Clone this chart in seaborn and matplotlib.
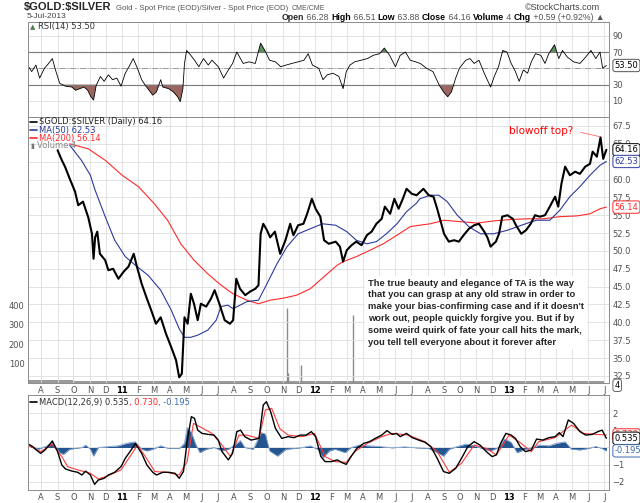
import pandas as pd
import matplotlib
matplotlib.use("Agg")
import matplotlib.pyplot as plt
import matplotlib.dates as mdates
from matplotlib.lines import Line2D
from matplotlib.text import Annotation
import seaborn as sns

# ---- price panel -------------------------------------------------------
price_dates = [
    "2010-09-01", "2010-09-09", "2010-09-15", "2010-09-24", "2010-10-04", "2010-10-10", "2010-10-19", "2010-10-29",
    "2010-11-05", "2010-11-08", "2010-11-11", "2010-11-15", "2010-11-20", "2010-11-30", "2010-12-06", "2010-12-15", "2010-12-25",
    "2011-01-04", "2011-01-13", "2011-01-23", "2011-01-29", "2011-02-07", "2011-02-16", "2011-02-25", "2011-03-06", "2011-03-15",
    "2011-03-25", "2011-04-04", "2011-04-13", "2011-04-19", "2011-04-24", "2011-04-29", "2011-05-05", "2011-05-11", "2011-05-17",
    "2011-05-24", "2011-05-30", "2011-06-09", "2011-06-18", "2011-06-25", "2011-07-04", "2011-07-14", "2011-07-24", "2011-07-30",
    "2011-08-05", "2011-08-12", "2011-08-22", "2011-08-31", "2011-09-10", "2011-09-16", "2011-09-20", "2011-09-25", "2011-10-02",
    "2011-10-08", "2011-10-17", "2011-10-27", "2011-11-06", "2011-11-15", "2011-11-21", "2011-11-30", "2011-12-10", "2011-12-17",
    "2011-12-26", "2012-01-02", "2012-01-11", "2012-01-18", "2012-01-27", "2012-02-09", "2012-02-17", "2012-02-23", "2012-03-01",
    "2012-03-10", "2012-03-19", "2012-03-29", "2012-04-08", "2012-04-17", "2012-04-26", "2012-05-06", "2012-05-12", "2012-05-22",
    "2012-05-30", "2012-06-07", "2012-06-15", "2012-06-22", "2012-07-02", "2012-07-11", "2012-07-24", "2012-08-03", "2012-08-12",
    "2012-08-19", "2012-08-25", "2012-09-01", "2012-09-10", "2012-09-20", "2012-09-29", "2012-10-08", "2012-10-18", "2012-10-28",
    "2012-11-06", "2012-11-16", "2012-11-22", "2012-11-28", "2012-12-08", "2012-12-14", "2012-12-20", "2012-12-30", "2013-01-09",
    "2013-01-15", "2013-01-25", "2013-02-03", "2013-02-12", "2013-02-20", "2013-03-01", "2013-03-11", "2013-03-20", "2013-03-30",
    "2013-04-05", "2013-04-11", "2013-04-18", "2013-04-27", "2013-05-07", "2013-05-16", "2013-05-26", "2013-06-04", "2013-06-09",
    "2013-06-17", "2013-06-24", "2013-06-29", "2013-07-05"]
price = [
    64.1, 62.7, 61.8, 60.1, 58.3, 56.4, 56.9, 54.7,
    52.4, 48.9, 51.9, 52.7, 49.6, 48.7, 47.3, 47.5, 46.1,
    47.1, 47.8, 49.6, 47.8, 45.4, 43.5, 41.7, 39.8, 40.7,
    38.4, 36.5, 34.7, 32.3, 32.8, 40.7, 39.8, 44.0, 42.6,
    40.3, 42.6, 42.2, 43.3, 44.5, 42.6, 40.3, 39.8, 40.3,
    46.1, 44.7, 43.8, 44.3, 44.7, 45.2, 52.4, 53.8, 52.9,
    51.9, 52.7, 49.6, 51.5, 53.8, 52.2, 53.6, 53.8, 55.2,
    57.3, 55.9, 54.8, 51.5, 51.0, 51.3, 50.6, 48.5, 50.1,
    50.8, 51.3, 50.8, 52.2, 52.7, 53.8, 54.5, 56.2, 55.2,
    57.3, 55.9, 57.3, 58.7, 58.0, 57.8, 58.7, 57.8, 57.6,
    55.9, 54.3, 52.4, 51.3, 51.5, 51.3, 52.2, 53.1, 53.6,
    53.8, 52.7, 51.9, 50.6, 51.3, 52.4, 54.8, 55.0, 54.5,
    53.6, 52.4, 52.9, 53.8, 55.0, 54.8, 55.0, 56.2, 57.6,
    56.2, 59.4, 61.8, 60.6, 61.1, 60.8, 61.8, 62.2, 63.9,
    63.2, 65.9, 62.9, 64.16]

ma50_dates = [
    "2010-09-24", "2010-10-16", "2010-11-02", "2010-11-11", "2010-11-30", "2010-12-18", "2011-01-07", "2011-01-26", "2011-02-19", "2011-03-15",
    "2011-04-04", "2011-04-19", "2011-04-29", "2011-05-11", "2011-05-24", "2011-06-12", "2011-06-28", "2011-07-07", "2011-07-20", "2011-07-30",
    "2011-08-25", "2011-09-16", "2011-10-02", "2011-10-21", "2011-11-09", "2011-11-30", "2011-12-23", "2012-01-15", "2012-02-09", "2012-03-01",
    "2012-03-19", "2012-04-08", "2012-04-26", "2012-05-15", "2012-06-04", "2012-06-22", "2012-07-11", "2012-07-17", "2012-08-06", "2012-08-22",
    "2012-09-07", "2012-09-26", "2012-10-18", "2012-11-09", "2012-12-04", "2012-12-30", "2013-01-18", "2013-02-06", "2013-02-23", "2013-03-20",
    "2013-04-08", "2013-04-27", "2013-05-16", "2013-06-04", "2013-06-23", "2013-07-05"]
ma50 = [
    64.8, 62.7, 60.6, 58.5, 54.8, 51.5, 49.2, 48.0, 46.6, 44.5,
    41.7, 39.1, 37.9, 37.9, 38.2, 38.9, 40.3, 42.2, 42.4, 41.9,
    42.9, 43.1, 45.4, 48.2, 50.6, 52.4, 53.1, 53.8, 53.6, 52.7,
    51.5, 51.0, 51.3, 52.4, 53.8, 55.5, 56.7, 57.3, 57.8, 57.8,
    56.9, 55.0, 53.4, 52.4, 52.4, 52.9, 53.4, 53.9, 54.3, 54.3,
    55.7, 57.6, 59.0, 60.6, 62.0, 62.53]

ma200_dates = [
    "2010-09-24", "2010-10-29", "2010-11-30", "2011-01-01", "2011-02-01", "2011-03-03", "2011-03-28", "2011-04-22", "2011-05-17", "2011-06-12",
    "2011-07-04", "2011-07-20", "2011-07-30", "2011-08-25", "2011-09-16", "2011-10-08", "2011-11-03", "2011-11-27", "2011-12-23", "2012-01-18",
    "2012-02-12", "2012-02-23", "2012-03-19", "2012-04-14", "2012-05-09", "2012-06-04", "2012-06-29", "2012-07-17", "2012-08-06", "2012-09-01",
    "2012-10-02", "2012-11-03", "2012-12-04", "2013-01-05", "2013-02-06", "2013-03-08", "2013-04-08", "2013-05-10", "2013-06-04", "2013-06-23",
    "2013-07-05"]
ma200 = [
    65.0, 64.3, 62.7, 60.6, 59.0, 56.6, 54.3, 51.0, 48.7, 46.8,
    45.4, 44.5, 44.0, 43.1, 42.6, 43.1, 43.4, 43.8, 44.7, 46.4,
    48.0, 48.5, 49.2, 50.1, 51.0, 52.2, 53.4, 53.6, 53.8, 54.3,
    54.1, 53.9, 54.2, 54.4, 54.5, 54.5, 54.8, 54.9, 55.2, 55.9,
    56.14]

vol_dates = ["2011-11-09", "2011-11-10", "2011-12-05", "2012-03-12"]
vol = [385, 50, 95, 350]
vol_base = [16, 16, 14, 12, 10, 10, 9, 9, 9, 9, 9, 9, 9, 9, 10, 10, 10, 9, 9,
            9, 9, 9, 9, 9, 9, 9, 9, 9, 9, 9, 9, 9, 9, 9, 9, 9, 8]

# ---- RSI(14) -----------------------------------------------------------
rsi_dates = [
    "2010-07-08", "2010-07-14", "2010-07-22", "2010-07-29", "2010-08-07", "2010-08-15", "2010-08-22", "2010-08-28", "2010-09-05", "2010-09-16",
    "2010-09-28", "2010-10-05", "2010-10-13", "2010-10-21", "2010-10-28", "2010-11-03", "2010-11-08", "2010-11-13", "2010-11-21", "2010-11-28",
    "2010-12-06", "2010-12-14", "2010-12-22", "2010-12-30", "2011-01-07", "2011-01-14", "2011-01-22", "2011-01-30", "2011-02-07", "2011-02-14",
    "2011-02-21", "2011-02-28", "2011-03-07", "2011-03-15", "2011-03-19", "2011-03-30", "2011-04-08", "2011-04-16", "2011-04-21", "2011-04-26",
    "2011-04-29", "2011-05-03", "2011-05-11", "2011-05-18", "2011-05-26", "2011-06-04", "2011-06-13", "2011-06-20", "2011-07-02", "2011-07-12",
    "2011-07-21", "2011-07-29", "2011-08-06", "2011-08-18", "2011-08-29", "2011-09-10", "2011-09-20", "2011-09-28", "2011-10-07", "2011-10-18",
    "2011-10-28", "2011-11-07", "2011-11-18", "2011-11-30", "2011-12-11", "2011-12-19", "2011-12-27", "2012-01-08", "2012-01-16", "2012-01-24",
    "2012-02-04", "2012-02-15", "2012-02-23", "2012-02-29", "2012-03-07", "2012-03-16", "2012-03-28", "2012-04-09", "2012-04-20", "2012-05-02",
    "2012-05-11", "2012-05-21", "2012-06-01", "2012-06-10", "2012-06-20", "2012-06-29", "2012-07-09", "2012-07-18", "2012-07-30", "2012-08-11",
    "2012-08-23", "2012-08-31", "2012-09-08", "2012-09-15", "2012-09-23", "2012-09-30", "2012-10-12", "2012-10-20", "2012-10-28", "2012-11-06",
    "2012-11-16", "2012-11-28", "2012-12-05", "2012-12-13", "2012-12-21", "2012-12-29", "2013-01-06", "2013-01-14", "2013-01-21", "2013-01-29",
    "2013-02-06", "2013-02-13", "2013-02-21", "2013-03-03", "2013-03-11", "2013-03-18", "2013-03-29", "2013-04-06", "2013-04-13", "2013-04-22",
    "2013-05-04", "2013-05-16", "2013-05-27", "2013-06-06", "2013-06-15", "2013-06-23", "2013-06-28", "2013-07-05"]
rsi = [
    52, 46, 54, 38, 50, 56, 62, 48, 31.5, 28,
    27, 23, 25, 27, 23, 15, 11, 29, 40, 34,
    42, 36, 38, 28, 44, 52, 62, 50, 36, 29,
    23, 17, 21, 36, 27, 25, 21, 15, 9, 25,
    56, 72, 66, 60, 52, 62, 54, 60, 52, 38,
    48, 56, 70, 56, 58, 56, 81, 72, 60, 58,
    52, 54, 56, 58, 60, 68, 54, 50, 36, 42,
    44, 40, 25, 46, 54, 58, 60, 62, 66, 68,
    75, 66, 52, 66, 70, 60, 58, 56, 50, 46,
    29, 21, 15, 21, 38, 50, 60, 62, 56, 60,
    44, 27, 40, 52, 72, 70, 56, 46, 34, 48,
    44, 58, 68, 66, 56, 68, 79, 62, 72, 64,
    58, 56, 64, 72, 62, 70, 50, 53.5]

# ---- MACD(12,26,9) -----------------------------------------------------
macd_dates = [
    "2010-07-08", "2010-07-16", "2010-07-23", "2010-07-31", "2010-08-08", "2010-08-16", "2010-08-22", "2010-09-01", "2010-09-09", "2010-09-16",
    "2010-09-28", "2010-10-09", "2010-10-17", "2010-10-24", "2010-11-02", "2010-11-10", "2010-11-17", "2010-11-28", "2010-12-06", "2010-12-18",
    "2010-12-30", "2011-01-07", "2011-01-18", "2011-01-26", "2011-02-07", "2011-02-17", "2011-02-28", "2011-03-07", "2011-03-19", "2011-03-30",
    "2011-04-11", "2011-04-19", "2011-04-27", "2011-05-04", "2011-05-12", "2011-05-18", "2011-05-24", "2011-06-01", "2011-06-13", "2011-06-24",
    "2011-07-02", "2011-07-09", "2011-07-21", "2011-07-29", "2011-08-06", "2011-08-13", "2011-08-21", "2011-09-02", "2011-09-17", "2011-09-25",
    "2011-10-01", "2011-10-09", "2011-10-18", "2011-10-30", "2011-11-11", "2011-11-22", "2011-12-04", "2011-12-15", "2011-12-25", "2012-01-02",
    "2012-01-12", "2012-01-20", "2012-02-01", "2012-02-12", "2012-02-21", "2012-02-29", "2012-03-09", "2012-03-20", "2012-04-02", "2012-04-13",
    "2012-04-24", "2012-05-06", "2012-05-16", "2012-05-26", "2012-06-03", "2012-06-10", "2012-06-22", "2012-07-03", "2012-07-15", "2012-07-27",
    "2012-08-07", "2012-08-19", "2012-08-31", "2012-09-11", "2012-09-23", "2012-10-04", "2012-10-16", "2012-10-28", "2012-11-08", "2012-11-20",
    "2012-12-01", "2012-12-09", "2012-12-17", "2012-12-27", "2013-01-06", "2013-01-14", "2013-01-23", "2013-02-02", "2013-02-13", "2013-02-23",
    "2013-03-07", "2013-03-18", "2013-03-30", "2013-04-07", "2013-04-14", "2013-04-24", "2013-05-04", "2013-05-16", "2013-05-27", "2013-06-08",
    "2013-06-19", "2013-06-27", "2013-07-05"]
macd = [
    0.19, 0.05, -0.15, -0.34, -0.15, 0.14, 0.38, -0.24, -1.02, -1.25,
    -1.37, -1.44, -1.60, -1.37, -1.60, -2.14, -1.89, -1.79, -1.60, -1.44,
    -1.11, -0.63, -0.15, 0.24, -0.34, -1.02, -1.44, -1.60, -1.44, -1.44,
    -1.50, -1.79, -1.40, 0.34, 1.79, 1.69, 1.01, 0.82, 0.76, 0.72,
    0.43, -0.24, -0.72, -0.34, 0.92, 1.01, 0.63, 0.43, 0.53, 2.47,
    2.66, 2.08, 1.11, 0.53, 0.63, 0.57, 0.72, 0.72, 0.92, 0.63,
    -0.53, -0.82, -0.82, -0.72, -0.88, -0.98, -0.53, -0.05, 0.24, 0.34,
    0.53, 0.72, 0.98, 0.76, 0.82, 0.63, 0.82, 0.57, 0.43, 0.30,
    0.05, -0.63, -1.40, -1.50, -1.21, -0.63, 0.05, 0.34, 0.14, -0.24,
    -0.53, -0.43, 0.24, 0.82, 0.72, 0.53, 0.05, -0.24, -0.15, 0.49,
    0.43, 0.57, 0.63, 0.86, 0.63, 1.60, 1.40, 0.92, 0.72, 0.76,
    0.92, 1.01, 0.535]

signal_dates = [
    "2010-07-08", "2010-07-31", "2010-08-22", "2010-09-09", "2010-09-20", "2010-10-09", "2010-11-02", "2010-11-17", "2010-12-06", "2010-12-30",
    "2011-01-18", "2011-01-30", "2011-02-14", "2011-03-04", "2011-03-26", "2011-04-19", "2011-05-04", "2011-05-16", "2011-05-28", "2011-06-20",
    "2011-07-09", "2011-07-25", "2011-08-10", "2011-08-25", "2011-09-17", "2011-09-29", "2011-10-11", "2011-10-26", "2011-11-11", "2011-12-08",
    "2011-12-31", "2012-01-20", "2012-02-08", "2012-02-29", "2012-03-16", "2012-04-09", "2012-05-06", "2012-05-26", "2012-06-25", "2012-07-27",
    "2012-08-19", "2012-09-11", "2012-10-04", "2012-10-28", "2012-11-20", "2012-12-09", "2013-01-02", "2013-01-25", "2013-02-13", "2013-02-27",
    "2013-03-30", "2013-04-30", "2013-05-23", "2013-06-15", "2013-07-05"]
signal = [
    0.11, -0.24, 0.19, -0.53, -1.11, -1.30, -1.50, -1.83, -1.64, -1.30,
    -0.43, 0.14, -0.53, -1.40, -1.44, -1.60, -0.82, 1.40, 1.21, 0.82,
    0.14, -0.53, 0.72, 0.72, 0.53, 2.18, 2.27, 1.11, 0.72, 0.63,
    0.82, -0.53, -0.82, -0.86, -0.24, 0.24, 0.63, 0.82, 0.72, 0.34,
    -0.24, -1.44, -0.92, 0.14, -0.05, -0.43, 0.72, 0.24, -0.24, 0.34,
    0.57, 1.30, 0.82, 0.76, 0.73]

hist_dates = [
    "2010-07-12", "2010-07-27", "2010-08-12", "2010-08-22", "2010-09-05", "2010-09-12", "2010-09-24", "2010-10-17", "2010-10-24", "2010-11-02",
    "2010-11-08", "2010-11-17", "2010-12-02", "2010-12-25", "2011-01-10", "2011-01-26", "2011-02-07", "2011-02-17", "2011-02-28", "2011-03-15",
    "2011-03-30", "2011-04-19", "2011-04-29", "2011-05-04", "2011-05-12", "2011-05-20", "2011-05-28", "2011-06-09", "2011-06-24", "2011-07-09",
    "2011-07-21", "2011-08-04", "2011-08-13", "2011-08-21", "2011-09-06", "2011-09-21", "2011-09-29", "2011-10-07", "2011-10-22", "2011-11-07",
    "2011-11-22", "2011-12-08", "2011-12-23", "2012-01-08", "2012-01-16", "2012-01-28", "2012-02-08", "2012-02-27", "2012-03-09", "2012-03-24",
    "2012-04-09", "2012-05-02", "2012-05-26", "2012-06-18", "2012-07-11", "2012-08-03", "2012-08-19", "2012-08-31", "2012-09-11", "2012-09-26",
    "2012-10-12", "2012-10-28", "2012-11-12", "2012-11-28", "2012-12-13", "2012-12-24", "2013-01-06", "2013-01-17", "2013-02-02", "2013-02-16",
    "2013-02-27", "2013-03-18", "2013-04-03", "2013-04-18", "2013-04-30", "2013-05-16", "2013-05-31", "2013-06-15", "2013-06-27", "2013-07-05"]
hist = [
    0.10, -0.10, 0.10, 0.30, -0.30, -0.40, -0.10, 0.00, 0.14, -0.10,
    -0.50, 0.00, 0.04, 0.10, 0.25, 0.33, -0.10, -0.20, -0.10, 0.10,
    -0.06, -0.06, 0.25, 1.16, 0.87, 0.20, -0.30, -0.10, 0.00, -0.20,
    -0.10, 0.20, 0.40, 0.00, -0.10, 0.87, 0.78, -0.20, -0.50, -0.10,
    -0.06, 0.00, 0.10, -0.14, -0.60, -0.20, -0.10, -0.30, 0.00, 0.14,
    0.10, 0.06, -0.02, 0.04, -0.02, -0.06, -0.30, -0.50, -0.10, 0.06,
    0.20, 0.10, -0.06, -0.20, 0.00, 0.50, 0.30, -0.30, -0.10, 0.00,
    0.14, 0.10, 0.25, 0.33, -0.10, -0.14, -0.06, 0.06, -0.06, -0.195]

note = ("The true beauty and elegance of TA is the way\n"
        "that you can grasp at any old straw in order to\n"
        "make your bias-confirming case and if it doesn't\n"
        "work out, people quickly forgive you. But if by\n"
        "some weird quirk of fate your call hits the mark,\n"
        "you tell tell everyone about it forever after")


def frame(dates, values):
    assert len(dates) == len(values)
    return pd.DataFrame({"date": pd.to_datetime(dates), "value": values})


price_df = frame(price_dates, price)
ma50_df = frame(ma50_dates, ma50)
ma200_df = frame(ma200_dates, ma200)
vol_df = frame(vol_dates, vol)
rsi_df = frame(rsi_dates, rsi)
macd_df = frame(macd_dates, macd)
sig_df = frame(signal_dates, signal)
hist_df = frame(hist_dates, hist)
base_dates = pd.date_range("2010-07-01", periods=len(vol_base), freq="MS")

BLUE = "#2b3a9b"
RED = "#ff2a2a"
GRID = "#dedede"
TICK = "#505050"
NARROW = ["Liberation Sans Narrow", "Liberation Sans", "DejaVu Sans"]

sns.set_theme(style="white")
plt.rcParams["font.family"] = ["DejaVu Sans"]

W, H = 640, 503
fig = plt.figure(figsize=(W / 100, H / 100), dpi=100)


def panel(top, bottom, left=28, right=609):
    return fig.add_axes([left / W, 1 - bottom / H, (right - left) / W, (bottom - top) / H])


ax_rsi = panel(22, 116.7)
ax = panel(116.7, 383)
ax_macd = panel(395, 490)
ax_vol = ax.twinx()
ax.set_zorder(ax_vol.get_zorder() + 1)
ax.patch.set_visible(False)

months = pd.date_range("2010-08-01", "2013-07-01", freq="MS")
month_labels = [str(d.year % 100) if d.month == 1 else d.strftime("%b")[0] for d in months]
xmin, xmax = pd.Timestamp("2010-07-07"), pd.Timestamp("2013-07-10")

for a in (ax_rsi, ax, ax_macd):
    a.set_xlim(xmin, xmax)
    a.set_xticks(months)
    a.grid(True, color=GRID, lw=0.6)
    a.set_axisbelow(True)
    for s in a.spines.values():
        s.set_color("#8c8c8c")
        s.set_linewidth(0.7)
    a.yaxis.tick_right()
    a.tick_params(length=0, labelsize=6, labelcolor=TICK, pad=2.5)
ax_rsi.set_xticklabels([])
for a in (ax, ax_macd):
    a.set_xticklabels(month_labels)
    for lbl in a.get_xticklabels():
        if lbl.get_text().isdigit():
            lbl.set_fontweight("bold")
            lbl.set_color("black")

# ---- RSI panel ----
sns.lineplot(data=rsi_df, x="date", y="value", ax=ax_rsi, color="black", lw=0.6, estimator=None)
ax_rsi.fill_between(rsi_df["date"], rsi_df["value"], 30, where=rsi_df["value"] < 30,
                    interpolate=True, color="#9b6560", lw=0)
ax_rsi.fill_between(rsi_df["date"], rsi_df["value"], 70, where=rsi_df["value"] > 70,
                    interpolate=True, color="#5a8f5a", lw=0)
ax_rsi.axhline(70, color="#7a7a7a", lw=0.8, zorder=1)
ax_rsi.axhline(30, color="#7a7a7a", lw=0.8, zorder=1)
ax_rsi.axhline(50, color="#9a9a9a", lw=0.7, ls="-.", zorder=1)
ax_rsi.set_ylim(-9.5, 107)
ax_rsi.set_yticks([10, 30, 50, 70, 90], ["10", "30", "", "70", "90"])
ax_rsi.set_xlabel("")
ax_rsi.set_ylabel("")

# ---- price panel ----
ax_vol.fill_between(base_dates, vol_base, step="post", color="#9a9a9a", lw=0)
ax_vol.vlines(vol_df["date"], 0, vol_df["value"], color="#8a8a8a", lw=1.0)
ax_vol.set_xlim(xmin, xmax)
ax_vol.set_ylim(0, 1373)
ax_vol.set_yticks([100, 200, 300, 400])
ax_vol.yaxis.tick_left()
ax_vol.tick_params(length=0, labelsize=6, labelcolor=TICK, pad=2.5)
for s in ax_vol.spines.values():
    s.set_visible(False)

sns.lineplot(data=ma200_df, x="date", y="value", ax=ax, color=RED, lw=0.8, estimator=None)
sns.lineplot(data=ma50_df, x="date", y="value", ax=ax, color=BLUE, lw=0.8, estimator=None)
sns.lineplot(data=price_df, x="date", y="value", ax=ax, color="black", lw=1.5, estimator=None)
ax.set_ylim(31.5, 68.8)
price_ticks = [32.5 + 2.5 * i for i in range(15)]
ax.set_yticks(price_ticks, ["" if t == 62.5 else f"{t:.1f}" for t in price_ticks])
ax.set_xlabel("")
ax.set_ylabel("")

# ---- MACD panel ----
ax_macd.fill_between(hist_df["date"], hist_df["value"], 0, color="#24558f", lw=0)
sns.lineplot(data=hist_df, x="date", y="value", ax=ax_macd, color="#7fa0cf", lw=0.6, estimator=None)
sns.lineplot(data=sig_df, x="date", y="value", ax=ax_macd, color="#ff3b3b", lw=0.8, estimator=None)
sns.lineplot(data=macd_df, x="date", y="value", ax=ax_macd, color="black", lw=1.0, estimator=None)
ax_macd.set_ylim(-2.47, 3.05)
ax_macd.set_yticks([-2, -1, 0, 1, 2])
ax_macd.set_xlabel("")
ax_macd.set_ylabel("")


# ---- value tags on the right ----
def tag(a, y, text, edge, color="black"):
    a.annotate(text, xy=(1, y), xycoords=("axes fraction", "data"), xytext=(4, 0),
               textcoords="offset points", ha="left", va="center", fontsize=6, color=color,
               annotation_clip=False, zorder=10,
               bbox=dict(boxstyle="round,pad=0.2,rounding_size=0.3", fc="white", ec=edge, lw=0.7))


tag(ax, price[-1], "64.16", "black")
tag(ax, ma50[-1], "62.53", BLUE, BLUE)
tag(ax, ma200[-1], "56.14", RED, RED)
tag(ax_vol, -12, "4", "#666666")
tag(ax_rsi, rsi[-1], "53.50", "#555555")
tag(ax_macd, signal[-1], "0.730", RED, RED)
tag(ax_macd, macd[-1], "0.535", "black")
tag(ax_macd, hist[-1], "-0.195", "#3b6ab0", "#3b6ab0")

# ---- annotations ----
ax.annotate("blowoff top?", xy=(mdates.date2num(pd.Timestamp("2013-06-25")), 65.96),
            xytext=(mdates.date2num(pd.Timestamp("2013-01-02")), 66.84),
            color="#ff0000", fontsize=7.5, va="center", ha="left", zorder=9,
            arrowprops=dict(arrowstyle="-", color="#ff6a6a", lw=0.6, relpos=(1.0, 0.5),
                            shrinkA=3, shrinkB=1))
ax.text(0.585, 0.392, note, transform=ax.transAxes, ha="left", va="top", fontsize=6.75,
        fontweight="bold", family=["Liberation Sans", "DejaVu Sans"], linespacing=1.4,
        zorder=9, bbox=dict(fc="white", ec="none", pad=2))


# ---- header and legends (figure pixel positions, drawn above the panels) ----
def put(x, y, s, **kw):
    kw.setdefault("va", "center")
    t = Annotation(s, xy=(x, H - y), xycoords="figure pixels", **kw)
    fig.add_artist(t)
    return t


def after(prev, s, gap=0, **kw):
    t = Annotation(s, xy=(1, 0), xycoords=prev, xytext=(gap, 0), textcoords="offset points",
                   va="bottom", **kw)
    fig.add_artist(t)
    return t


t = put(24, 7, r"\$GOLD:\$SILVER", fontsize=8, fontweight="bold", family=NARROW)
t = after(t, "Gold - Spot Price (EOD)/Silver - Spot Price (EOD)", gap=3, fontsize=5.6,
          color="#555555", family=NARROW)
after(t, "CME/CME", gap=3, fontsize=5, color="#555555", family=NARROW)
put(600, 7, "©StockCharts.com", ha="right", fontsize=6.5, color="#444444", family=NARROW)
put(27, 17, "5-Jul-2013", fontsize=6, color="#444444", family=NARROW)

info = [("Open", True), (" 66.28 ", False), ("High", True), (" 66.51 ", False), ("Low", True),
        (" 63.88 ", False), ("Close", True), (" 64.16 ", False), ("Volume", True), (" 4 ", False),
        ("Chg", True), (" +0.59 (+0.92%) ▲", False)]
t = put(282, 17, info[0][0], fontsize=6.3, fontweight="bold", family=NARROW)
for s, bold in info[1:]:
    t = after(t, s, fontsize=6.3, fontweight="bold" if bold else "normal",
              color="black" if bold else "#555555", family=NARROW)

put(30, 27, "▲", fontsize=5, color="#4e7f4e")
put(38, 27, "RSI(14) 53.50", fontsize=6, color="#333333")

legend_rows = [(122, "black", r"\$GOLD:\$SILVER (Daily) 64.16", "#222222"),
               (130, BLUE, "MA(50) 62.53", BLUE),
               (138, RED, "MA(200) 56.14", RED)]
for y, c, s, tc in legend_rows:
    fig.add_artist(Line2D([30 / W, 37 / W], [1 - y / H] * 2, color=c, lw=1.2))
    put(39, y, s, fontsize=6, color=tc)
put(30, 146, "▮", fontsize=5, color="#777777")
put(37, 146, "Volume 4", fontsize=6, color="#888888")

fig.add_artist(Line2D([30 / W, 37 / W], [1 - 402 / H] * 2, color="black", lw=1.2))
t = put(39, 402, "MACD(12,26,9) 0.535", fontsize=6, color="#333333")
t = after(t, ", 0.730", fontsize=6, color=RED)
after(t, ", -0.195", fontsize=6, color="#3b6ab0")

fig.savefig("out.png", dpi=100)
